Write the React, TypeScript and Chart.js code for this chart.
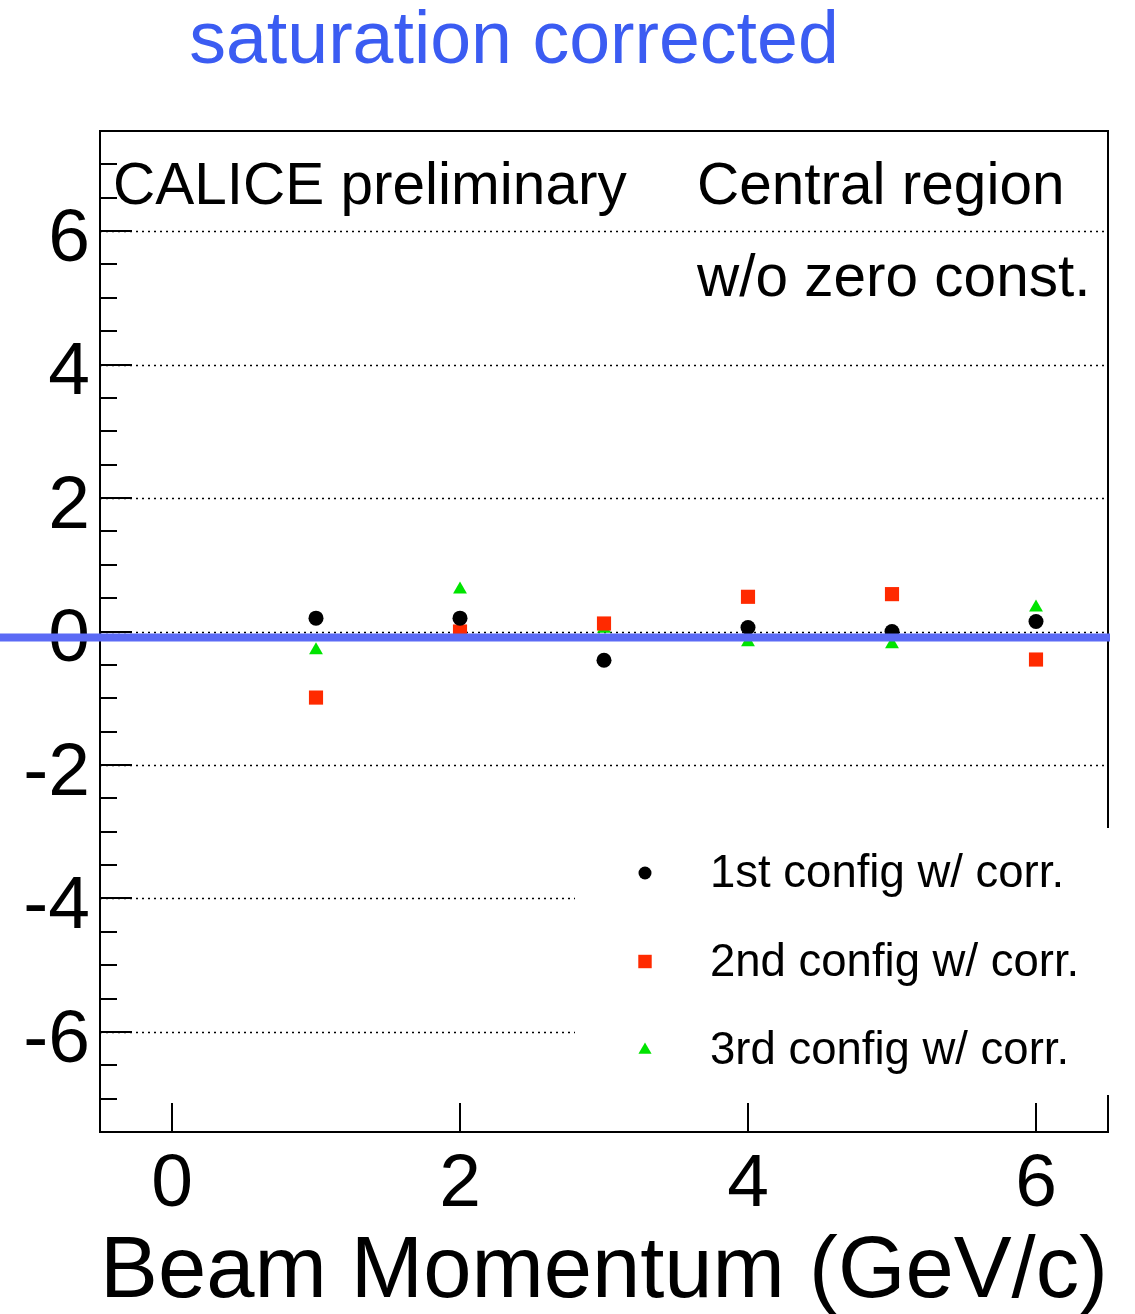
import React, { useEffect, useRef } from 'react';
import { Chart, registerables } from 'chart.js';

Chart.register(...registerables);

// Beam momentum points (GeV/c)
const momenta = [1, 2, 3, 4, 5, 6];
// Residuals for each configuration
const config1 = [0.2, 0.2, -0.43, 0.06, 0.0, 0.15];
const config2 = [-0.99, 0.0, 0.12, 0.52, 0.56, -0.42];
const config3 = [-0.28, 0.63, 0.04, -0.16, -0.19, 0.36];
const seriesNames = ['1st config w/ corr.', '2nd config w/ corr.', '3rd config w/ corr.'];

const xTicks = [0, 2, 4, 6];
const yTicks = [-6, -4, -2, 0, 2, 4, 6];
const yMinorStep = 0.5;
const referenceLevel = -0.09;

const titleText = 'saturation corrected';
const labelLeft = 'CALICE preliminary';
const labelRight = ['Central region', 'w/o zero const.'];
const xTitle = 'Beam Momentum (GeV/c)';

const FONT = "'Liberation Sans', Arial, Helvetica, sans-serif";

const colors = ['#000000', '#ff2a00', '#00e400'];
const styles = ['circle', 'rect', 'triangle'];
const radii = [7.5, 10, 8];

function drawMarker(ctx: CanvasRenderingContext2D, style: string, x: number, y: number, r: number, color: string) {
  ctx.save();
  ctx.fillStyle = color;
  ctx.beginPath();
  if (style === 'circle') {
    ctx.arc(x, y, r, 0, Math.PI * 2);
  } else if (style === 'rect') {
    const s = r * Math.SQRT1_2;
    ctx.rect(x - s, y - s, 2 * s, 2 * s);
  } else {
    ctx.moveTo(x, y - r);
    ctx.lineTo(x + r * 0.866, y + r * 0.5);
    ctx.lineTo(x - r * 0.866, y + r * 0.5);
    ctx.closePath();
  }
  ctx.fill();
  ctx.restore();
}

const framePlugin = {
  id: 'framePlugin',
  beforeDatasetsDraw(chart: any) {
    const { ctx, chartArea: a, scales } = chart;
    const ys = scales.y;
    ctx.save();
    ctx.strokeStyle = '#000';
    ctx.lineWidth = 1.5;
    ctx.setLineDash([2, 4]);
    yTicks.forEach((v) => {
      const py = Math.round(ys.getPixelForValue(v)) + 0.5;
      ctx.beginPath();
      ctx.moveTo(a.left, py);
      ctx.lineTo(a.right, py);
      ctx.stroke();
    });
    ctx.restore();
  },
  afterDatasetsDraw(chart: any) {
    const { ctx, chartArea: a, scales } = chart;
    const xs = scales.x;
    const ys = scales.y;
    ctx.save();
    ctx.strokeStyle = '#000';
    ctx.lineWidth = 2;
    // y tick marks pointing inward
    for (let v = ys.min; v <= ys.max + 1e-9; v += yMinorStep) {
      const major = yTicks.some((t) => Math.abs(t - v) < 1e-6);
      const py = Math.round(ys.getPixelForValue(v));
      ctx.beginPath();
      ctx.moveTo(a.left, py);
      ctx.lineTo(a.left + (major ? 32 : 17), py);
      ctx.stroke();
    }
    // x tick marks pointing inward
    xTicks.forEach((v) => {
      const px = Math.round(xs.getPixelForValue(v));
      ctx.beginPath();
      ctx.moveTo(px, a.bottom);
      ctx.lineTo(px, a.bottom - 29);
      ctx.stroke();
    });
    // frame
    ctx.strokeRect(a.left, a.top, a.right - a.left, a.bottom - a.top);

    // legend box
    const lx = 575;
    const ly = 828;
    ctx.fillStyle = '#ffffff';
    ctx.fillRect(lx, ly, a.right + 4 - lx, 1095 - ly);
    ctx.font = `45.5px ${FONT}`;
    ctx.textBaseline = 'alphabetic';
    ctx.textAlign = 'left';
    seriesNames.forEach((name, i) => {
      const cy = 873 + i * 88.5;
      drawMarker(ctx, styles[i], 645, cy, i === 0 ? 6.5 : radii[i] * 0.95, colors[i]);
      ctx.fillStyle = '#000';
      ctx.fillText(name, 710, cy + 14);
    });

    // annotation texts
    ctx.fillStyle = '#000';
    ctx.font = `58.5px ${FONT}`;
    ctx.fillText(labelLeft, 113, 204);
    ctx.fillText(labelRight[0], 697, 204);
    ctx.fillText(labelRight[1], 697, 296);

    // reference level line
    const ry = ys.getPixelForValue(referenceLevel);
    ctx.strokeStyle = '#5b6af5';
    ctx.lineWidth = 8;
    ctx.beginPath();
    ctx.moveTo(0, ry);
    ctx.lineTo(a.right + 2, ry);
    ctx.stroke();

    // heading
    ctx.fillStyle = '#3b5cf2';
    ctx.font = `73.5px ${FONT}`;
    ctx.textAlign = 'center';
    ctx.fillText(titleText, 514, 63);
    ctx.restore();
  },
};

export default function App() {
  const canvasRef = useRef<HTMLCanvasElement | null>(null);

  useEffect(() => {
    const canvas = canvasRef.current;
    if (!canvas) return;
    const seriesValues = [config1, config2, config3];
    const chart = new Chart(canvas, {
      type: 'scatter',
      data: {
        datasets: seriesValues.map((vals, i) => ({
          label: seriesNames[i],
          data: momenta.map((m, k) => ({ x: m, y: vals[k] })),
          pointStyle: styles[i] as any,
          pointRadius: radii[i],
          pointHoverRadius: radii[i],
          pointBackgroundColor: colors[i],
          pointBorderWidth: 0,
          borderWidth: 0,
          showLine: false,
        })),
      },
      options: {
        responsive: false,
        animation: false,
        events: [],
        layout: { padding: { top: 131, right: 27, left: 0, bottom: 0 } },
        plugins: {
          legend: { display: false },
          tooltip: { enabled: false },
          title: { display: false },
        },
        scales: {
          x: {
            type: 'linear',
            min: -0.5,
            max: 6.5,
            afterBuildTicks: (s: any) => {
              s.ticks = xTicks.map((v) => ({ value: v }));
            },
            afterFit: (s: any) => {
              s.height = 182;
            },
            grid: { display: false, drawTicks: false, tickLength: 0 },
            border: { display: false },
            ticks: {
              color: '#000',
              padding: 16,
              maxRotation: 0,
              autoSkip: false,
              font: { family: FONT, size: 75, lineHeight: 1 },
              callback: (v: any) => String(v),
            },
            title: {
              display: true,
              text: xTitle,
              color: '#000',
              font: { family: FONT, size: 88, lineHeight: 1 },
              padding: { top: 0, bottom: -3 },
            },
          },
          y: {
            type: 'linear',
            min: -7.5,
            max: 7.5,
            afterBuildTicks: (s: any) => {
              s.ticks = yTicks.map((v) => ({ value: v }));
            },
            afterFit: (s: any) => {
              s.width = 100;
            },
            grid: { display: false, drawTicks: false, tickLength: 0 },
            border: { display: false },
            ticks: {
              color: '#000',
              padding: 10,
              labelOffset: 9,
              autoSkip: false,
              font: { family: FONT, size: 75, lineHeight: 1 },
              callback: (v: any) => String(v),
            },
          },
        },
      },
      plugins: [framePlugin],
    });
    return () => chart.destroy();
  }, []);

  return (
    <div style={{ position: 'absolute', left: 0, top: 0, width: 1135, height: 1314, background: '#fff' }}>
      <canvas ref={canvasRef} width={1135} height={1314} style={{ display: 'block' }} />
    </div>
  );
}
